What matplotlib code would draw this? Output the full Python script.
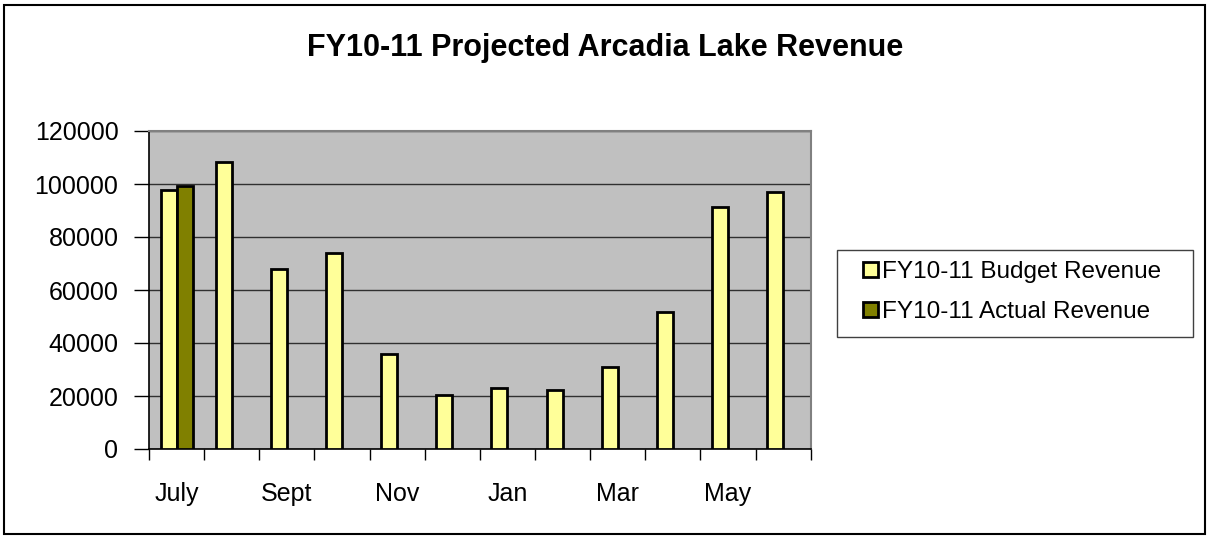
import numpy as np
import matplotlib
matplotlib.use('Agg')
import matplotlib.pyplot as plt
from matplotlib.patches import Rectangle

plt.rcParams['font.family'] = ['Liberation Sans', 'DejaVu Sans']

months = ['July', 'Aug', 'Sept', 'Oct', 'Nov', 'Dec',
          'Jan', 'Feb', 'Mar', 'Apr', 'May', 'June']
budget = [97700, 108200, 67900, 73800, 35700, 20400,
          23100, 22300, 31000, 51700, 91200, 97100]
actual = [99200]
labels = ['FY10-11 Budget Revenue', 'FY10-11 Actual Revenue']
yticks = [0, 20000, 40000, 60000, 80000, 100000, 120000]

W, H = 1207, 536
fig = plt.figure(figsize=(W / 100, H / 100), dpi=100)
fig.patch.set_facecolor('white')
# outer chart border
fig.add_artist(Rectangle((4 / W, 2 / H), (W - 6) / W, (H - 7) / H, transform=fig.transFigure,
                         fill=False, edgecolor='black', linewidth=1.5))

ax = fig.add_axes([149 / W, 1 - 449 / H, (810.7 - 149) / W, (449 - 131) / H])
ax.set_facecolor('#C0C0C0')

x = np.arange(len(months))
w = 0.29
ax.bar(x - w / 2, budget, w, color='#FFFF99', edgecolor='black', linewidth=2,
       label=labels[0], zorder=3)
ax.bar(x[:len(actual)] + w / 2, actual, w, color='#808000', edgecolor='black',
       linewidth=2, label=labels[1], zorder=3)

ax.set_xlim(-0.5, len(months) - 0.5)
ax.set_ylim(0, 120000)
ax.set_yticks(yticks)
ax.set_yticklabels([str(v) for v in yticks], fontsize=18)
ax.yaxis.grid(True, color='#303030', linewidth=1.0, zorder=1)
ax.set_axisbelow(True)

ax.set_xticks(np.arange(len(months) + 1) - 0.5)
ax.set_xticklabels([])
ax.set_xticks(x[::2], minor=True)
ax.set_xticklabels(months[::2], minor=True, fontsize=18)
ax.tick_params(axis='x', which='major', direction='out', length=8, width=1, color='black')
ax.tick_params(axis='x', which='minor', length=0, pad=24)
ax.tick_params(axis='y', direction='out', length=11, width=1, pad=11)

for side in ['left', 'bottom']:
    ax.spines[side].set_color('black')
    ax.spines[side].set_linewidth(1.2)
for side in ['top', 'right']:
    ax.spines[side].set_color('#808080')
    ax.spines[side].set_linewidth(1.5)

fig.text(605 / W, 1 - 48 / H, 'FY10-11 Projected Arcadia Lake Revenue',
         ha='center', va='center', fontsize=22, fontweight='bold')

# legend box drawn separately so the padding can be wider than tall
fig.add_artist(Rectangle((837 / W, 1 - 337 / H), (1193 - 837) / W, 87 / H,
                         transform=fig.transFigure, facecolor='white',
                         edgecolor='#404040', linewidth=1.0))
leg = fig.legend(loc='center left', bbox_to_anchor=(863 / W, 1 - 292 / H),
                 fontsize=17.5, frameon=False,
                 handlelength=0.6, handleheight=0.6, handletextpad=0.2,
                 borderpad=0, labelspacing=0.75, borderaxespad=0)

fig.savefig('out.png', dpi=100)
